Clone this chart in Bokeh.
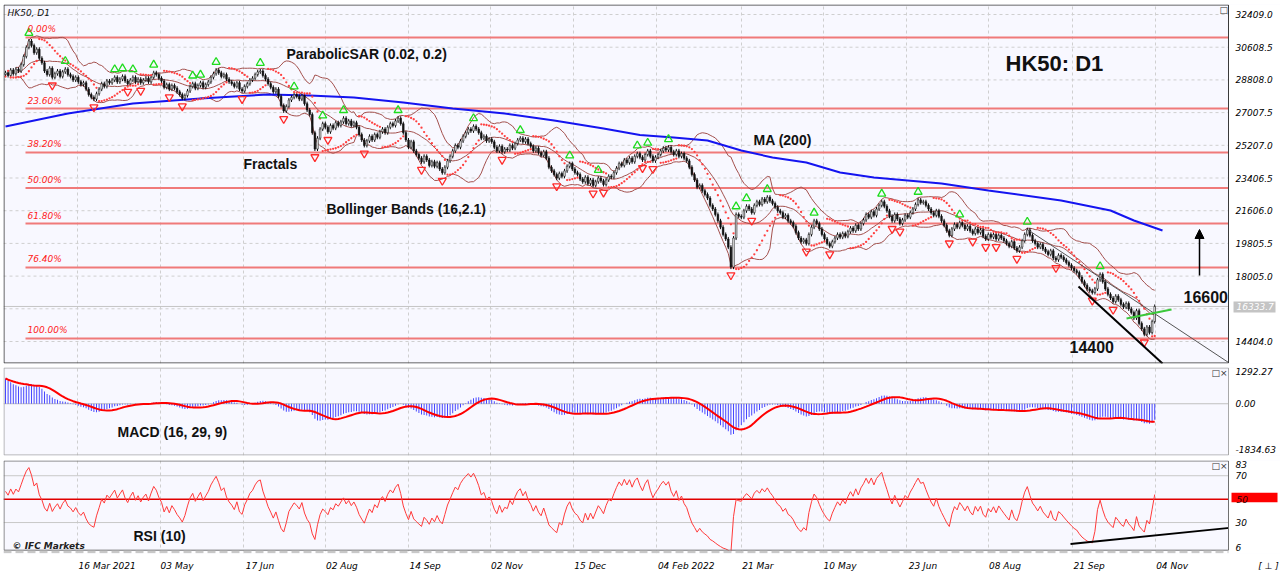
import numpy as np
import pandas as pd
from bokeh.plotting import figure
from bokeh.layouts import column
from bokeh.models import (ColumnDataSource, Range1d, FixedTicker, Label, Arrow,
                          NormalHead, Grid)
from bokeh.core.properties import value
from bokeh.embed import file_html
from bokeh.resources import INLINE

# ---------------- data ----------------
close = [
    29200, 29050, 29350, 29150, 29400, 29300, 29650, 30100, 30600,
    30950, 30700, 30300, 30500, 30000, 29750,
    29300, 29100, 29450, 28950,
    29150, 29300, 29000, 29250, 29400, 29100, 29000,
    28800, 28950, 28700, 28550, 28650,
    28300, 28000, 27850, 27750, 28050,
    28300, 28600, 28450, 28750, 28650,
    28800, 28950, 28700, 28850, 29000, 28750, 28600, 28800, 28950, 28700, 28850, 28650, 28800, 28900, 28700,
    28950, 29200, 29100, 28900, 28750,
    28400, 28550, 28300, 28500, 28350,
    28150, 28000, 27800, 27950, 28200,
    28450, 28600, 28350, 28500, 28650, 28400, 28550, 28700,
    28950, 29150, 29350, 29200, 29000, 29100, 28850, 28700,
    28600, 28450, 28650, 28300, 28200, 28450, 28600, 28800,
    28900, 29100, 29250, 29300, 29050, 28850,
    28600, 28400, 28150, 28300,
    27900, 27400, 27100, 27350,
    27700, 27850, 28000, 27900, 27750, 27950,
    27500, 27150, 26900,
    25900, 25000, 25600,
    26100, 26400, 26200, 25950, 26300, 26150, 26450, 26300,
    26500, 26700, 26400, 26550, 26300, 26450, 26200,
    25800, 25500, 25200, 25450, 25700,
    25500, 25800, 25650, 25950, 26100, 25900, 26200, 26400,
    26300, 26550, 26700, 26400,
    25900, 25500, 25100, 25400, 24900, 24700,
    24500, 24300, 24600, 24400, 24100, 24300, 24050, 24250,
    23900, 23700, 24000, 24350,
    24600, 24900, 25200, 25100, 25450, 25700,
    25900, 26100, 26000, 26250, 26100, 25900,
    25600, 25700, 25450, 25550,
    25400, 25100, 24900, 25150, 24850, 25000,
    24950, 25200, 25050, 25300, 25500, 25600,
    25400, 25550, 25300, 25150,
    24900, 25050, 24800, 24650, 24850, 24500,
    24000, 23800, 23600, 23400, 23650, 23500,
    23800, 24050, 24200, 23900, 23700, 23600,
    23350, 23200, 23450, 23100, 23300, 23000, 23200, 23400,
    23250, 23050, 23300, 23500, 23450,
    23700, 23950, 24200, 24100, 24400,
    24250, 24500, 24300, 24600, 24750, 24550,
    24400, 24700, 24900, 24600, 24350, 24550,
    24700, 24900, 25050, 24950, 25100, 24850,
    24700, 24900, 24600, 24750, 24500, 24350,
    24000, 23600, 23300, 22900,
    23000, 22700, 22500, 22300,
    21900, 21700, 21400, 21050,
    20700, 20300, 20050, 19600,
    18500, 20100, 21400,
    21300, 21250, 21600, 21850, 21700, 21500,
    21900, 22100, 21950, 22250, 22100,
    22350, 22150, 22000, 21800, 21600,
    21500, 21250, 21350, 21050, 20950, 20750,
    20400, 20100, 19900, 20000, 19800,
    20300, 20700, 21050, 20900,
    20600, 20300, 20050, 19800, 19650,
    19900, 20100, 20300, 20150, 20350, 20200,
    20450, 20650, 20500, 20800, 20600, 20900,
    21100, 21400, 21250, 21550, 21350,
    21700, 21900, 22100, 21850, 21600,
    21300, 21050, 21400, 21150, 20900,
    21100, 21350, 21250, 21500, 21700,
    21950, 22200, 22050, 22100, 21900,
    21700, 21500, 21350, 21600, 21300,
    21050, 20800, 20500, 20250, 20600,
    20850, 20700, 20950, 20800,
    20600, 20750, 20500, 20350, 20600,
    20400, 20550, 20200, 20050, 20300,
    20150, 20300, 20050, 20250, 20100, 19950,
    19800, 19650, 19900, 19550, 19400, 19600,
    19950, 20300, 20550, 20250,
    19950, 19800, 19600, 19750, 19500,
    19350, 19200, 19400, 19000, 18900,
    19150, 19050, 18900, 18750,
    18600, 18450, 18300, 18200,
    17950, 17700, 17500, 17300,
    17200, 17100, 17300,
    17800, 18100, 17700,
    17300, 17000, 16800, 16600,
    16900, 16700, 16450, 16300,
    16500, 16200, 16000,
    15700, 16100, 15400,
    15100, 14800, 15200, 14900,
    15500, 16333.7,
]
first_open = 29100
wick = 110

ma200_idx = [0, 24, 49, 75, 88, 101, 117, 134, 153, 172, 192, 211, 230, 244, 257,
             270, 283, 295, 308, 321, 334, 347, 360, 378, 406, 425, 434, 445]
ma200_val = [26242, 26958, 27508, 27784, 27894, 28004, 27949, 27839, 27564, 27233,
             26958, 26573, 26132, 25774, 25637, 25471, 24921, 24535, 24260, 23709,
             23434, 23269, 23104, 22718, 22168, 21617, 21067, 20516]

date_pos = [27.7, 59.6, 91.5, 123.0, 155.0, 186.5, 218.5, 250.4, 283.0, 314.6,
            346.5, 378.0, 410.4, 442.3]
date_labels = ["16 Mar 2021", "03 May", "17 Jun", "02 Aug", "14 Sep", "02 Nov",
               "15 Dec", "04 Feb 2022", "21 Mar", "10 May", "23 Jun", "08 Aug",
               "21 Sep", "04 Nov"]

price_ticks = [14404.0, 18005.0, 19805.5, 21606.0, 23406.5, 25207.0, 27007.5,
               28808.0, 30608.5, 32409.0]
price_grid = [14404.0, 16204.5, 18005.0, 19805.5, 21606.0, 23406.5, 25207.0,
              27007.5, 28808.0, 30608.5, 32409.0]
last_price = 16333.7

fib_high = 31143.0
fib_low = 14570.0
fib_levels = [0.0, 23.6, 38.2, 50.0, 61.8, 76.4, 100.0]

macd_ticks = [1292.27, 0.0, -1834.63]
macd_fast, macd_slow, macd_sig = 12, 26, 9
macd_seed_fast = 29300.0
macd_seed_slow = 28200.0
rsi_period = 10
rsi_seed_gain = 170.0
rsi_seed_loss = 130.0
rsi_ticks = [83, 70, 30, 6]
rsi_level = 50

# ---------------- pixel helpers for annotations ----------------
def mx(px):
    return (px - 5.0) / 2.6

def my(py):
    return 32409.0 - (py - 14.0) * 55.06

def macd_y(py):
    return 1452.6 - (py - 367.0) * 40.09

def rsi_y(py):
    return 83.0 - (py - 460.0) / 1.2338

# ---------------- derived series ----------------
n = len(close)
idx = np.arange(n, dtype=float)
c = np.array(close, dtype=float)
o = np.concatenate([[first_open], c[:-1]])
top = np.maximum(o, c)
bot = np.minimum(o, c)
hi = top + wick
lo = bot - wick

cs = pd.Series(c)
bb_mid = cs.rolling(16, min_periods=5).mean()
bb_std = cs.rolling(16, min_periods=5).std(ddof=0)
bb_up = bb_mid + 2.1 * bb_std
bb_dn = bb_mid - 2.1 * bb_std


def psar(high, low, step=0.02, maxstep=0.2):
    m = len(high)
    sar = np.zeros(m)
    bull = True
    af = step
    ep = high[0]
    sar[0] = low[0]
    for i in range(1, m):
        prev = sar[i - 1]
        s = prev + af * (ep - prev)
        if bull:
            s = min(s, low[i - 1], low[max(i - 2, 0)])
            if low[i] < s:
                bull = False
                s = ep
                ep = low[i]
                af = step
            elif high[i] > ep:
                ep = high[i]
                af = min(af + step, maxstep)
        else:
            s = max(s, high[i - 1], high[max(i - 2, 0)])
            if high[i] > s:
                bull = True
                s = ep
                ep = high[i]
                af = step
            elif low[i] < ep:
                ep = low[i]
                af = min(af + step, maxstep)
        sar[i] = s
    return sar


sar = psar(hi, lo)

up_x, up_y, dn_x, dn_y = [], [], [], []
for i in range(2, n - 2):
    if hi[i] > max(hi[i - 2], hi[i - 1]) and hi[i] >= max(hi[i + 1], hi[i + 2]):
        up_x.append(float(i)); up_y.append(float(hi[i] + 330))
    if lo[i] < min(lo[i - 2], lo[i - 1]) and lo[i] <= min(lo[i + 1], lo[i + 2]):
        dn_x.append(float(i)); dn_y.append(float(lo[i] - 330))


def ema(vals, period, seed):
    k = 2.0 / (period + 1)
    out = []
    e = seed
    for v in vals:
        e = e + k * (v - e)
        out.append(e)
    return np.array(out)


macd = ema(c, macd_fast, macd_seed_fast) - ema(c, macd_slow, macd_seed_slow)
signal = pd.Series(macd).rolling(macd_sig, min_periods=1).mean().values

ag, al = rsi_seed_gain, rsi_seed_loss
rsi = []
prev = c[0]
for v in c:
    d = v - prev
    prev = v
    ag = (ag * (rsi_period - 1) + max(d, 0.0)) / rsi_period
    al = (al * (rsi_period - 1) + max(-d, 0.0)) / rsi_period
    rsi.append(100.0 - 100.0 / (1.0 + ag / al))
rsi = np.array(rsi)

# ---------------- figures ----------------
W = 1280
BG = "#F8F8FF"
XR = Range1d(-0.77, 490.38)
AX_FONT = "DejaVu Sans"
AX_COLOR = "#000000"
X_END = mx(1228)


def base_fig(height, yr, top_b, bot_b, xaxis=None):
    p = figure(width=W, height=height, x_range=XR, y_range=yr,
               output_backend="svg", toolbar_location=None,
               y_axis_location=None, x_axis_location=xaxis,
               min_border_left=3, min_border_right=0, min_border_top=top_b,
               min_border_bottom=bot_b, background_fill_color=BG,
               border_fill_color="white", outline_line_color=None)
    for g in p.grid:
        g.visible = False
    p.add_layout(Grid(dimension=0, ticker=FixedTicker(ticks=date_pos),
                      grid_line_color="#CFCFCF", grid_line_dash="3 3"))
    return p


def hgrid(p, ys, dash="3 3", color="#CFCFCF", width=1):
    p.segment(x0=[mx(3)] * len(ys), x1=[X_END] * len(ys), y0=ys, y1=ys,
              line_color=color, line_dash=dash, line_width=width)


def finish_panel(p, y_top_px, y_bot_px, yconv, border_color, labels, vals,
                 ylo, yhi, baselines=None):
    # white area for the value scale at the right
    p.quad(left=[mx(1228.5)], right=[600], bottom=[ylo], top=[yhi],
           fill_color="white", line_color=None)
    # panel border
    p.quad(left=[mx(3.5)], right=[mx(1228)], top=[yconv(y_top_px + 0.5)],
           bottom=[yconv(y_bot_px - 0.5)], fill_color=None,
           line_color=border_color, line_width=1)
    if baselines is None:
        baselines = ["middle"] * len(vals)
    p.text(x=[mx(1235)] * len(vals), y=vals, text=labels,
           text_font=value(AX_FONT), text_font_style="italic",
           text_font_size="9px", text_color=AX_COLOR, text_align="left",
           text_baseline=baselines)


def txt(p, x, y, text, size, style="bold", font="Liberation Sans", color="#111111",
        baseline="top", align="left"):
    p.add_layout(Label(x=x, y=y, text=text, text_font=font, text_font_size=size,
                       text_font_style=style, text_color=color,
                       text_baseline=baseline, text_align=align))


# ---- main price panel ----
main = base_fig(365, Range1d(13193, 32960), 4, 2)
hgrid(main, price_grid)

fib_prices = [fib_high - (fib_high - fib_low) * lv / 100.0 for lv in fib_levels]
main.segment(x0=[mx(25)] * len(fib_prices), x1=[X_END] * len(fib_prices),
             y0=fib_prices, y1=fib_prices, line_color="#F07A7A", line_width=2)
for lv, fp in zip(fib_levels, fib_prices):
    txt(main, mx(27), fp + 3 * 55.06, "%.2f%%" % lv, "9px", style="italic",
        font=AX_FONT, color="#FF1A1A", baseline="bottom")

main.segment(x0=[mx(3)], x1=[X_END], y0=[last_price], y1=[last_price],
             line_color="#C4C4C4", line_width=1)

bb_color = "#A3504D"
main.line(idx, bb_up.values, line_color=bb_color, line_width=1)
main.line(idx, bb_mid.values, line_color=bb_color, line_width=1)
main.line(idx, bb_dn.values, line_color=bb_color, line_width=1)

main.line(ma200_idx, ma200_val, line_color="#1414F0", line_width=2)

src = ColumnDataSource(dict(x=idx, top=top, bot=bot, hi=hi, lo=lo))
main.segment(x0="x", y0="lo", x1="x", y1="hi", source=src,
             line_color="#111111", line_width=1)
bull = c >= o
main.vbar(x=idx[bull], top=top[bull], bottom=bot[bull], width=0.62,
          fill_color="white", line_color="#111111", line_width=0.6)
main.vbar(x=idx[~bull], top=top[~bull], bottom=bot[~bull], width=0.62,
          fill_color="#111111", line_color="#111111", line_width=0.6)

main.scatter(idx, sar, size=2.3, marker="circle", fill_color="#FF4040",
             line_color=None)
main.scatter(up_x, up_y, marker="triangle", size=8, fill_color=None,
             line_color="#1EDC1E", line_width=1.3)
main.scatter(dn_x, dn_y, marker="inverted_triangle", size=8, fill_color=None,
             line_color="#FF2A2A", line_width=1.3)

main.line([mx(1027), mx(1228)], [my(229), my(362)], line_color="#555555", line_width=1)
main.line([mx(1078), mx(1162)], [my(286), my(363)], line_color="#000000", line_width=2)
main.line([mx(1126), mx(1171)], [my(318), my(309)], line_color="#3CC83C", line_width=2)
main.add_layout(Arrow(end=NormalHead(size=9, fill_color="black", line_color="black"),
                      x_start=mx(1199), y_start=my(275), x_end=mx(1199), y_end=my(229),
                      line_color="black", line_width=1.5))

finish_panel(main, 4, 363, my, "#3A3A3A",
             ["%.1f" % t for t in price_ticks], price_ticks, 0, 40000)
main.quad(left=[mx(1233)], right=[mx(1275)], top=[my(301)], bottom=[my(312)],
          fill_color="#C4C4C4", line_color=None)
main.text(x=[mx(1236)], y=[last_price], text=["%.1f" % last_price],
          text_font=value(AX_FONT), text_font_style="italic", text_font_size="9px",
          text_color="white", text_align="left", text_baseline="middle")

txt(main, mx(7), my(7), "HK50, D1", "9px", style="italic", font=AX_FONT)
txt(main, mx(286), my(45), "ParabolicSAR (0.02, 0.2)", "14px")
txt(main, mx(243), my(155), "Fractals", "14px")
txt(main, mx(326), my(200), "Bollinger Bands (16,2.1)", "14px")
txt(main, mx(753), my(131), "MA (200)", "14px")
txt(main, mx(1005), my(50), "HK50: D1", "22px")
txt(main, mx(1183), my(290), "16600", "16px")
txt(main, mx(1069), my(341), "14400", "16px")
txt(main, mx(1219), my(4), "\u25a1", "9px", style="normal", font=AX_FONT, color="#333333")

# ---- MACD panel ----
mp = base_fig(92, Range1d(-2075.2, 1452.6), 2, 2)
hgrid(mp, [0.0], dash="solid", color="#C0C0C0")
mp.vbar(x=idx, top=macd, bottom=0, width=0.38, fill_color="#4646FF",
        line_color=None)
mp.line(idx, signal, line_color="#FF0000", line_width=2)
finish_panel(mp, 367, 455, macd_y, "#A8A8A8",
             ["%.2f" % t for t in macd_ticks], macd_ticks, -5000, 5000)
txt(mp, mx(117), macd_y(423), "MACD (16, 29, 9)", "14px")
txt(mp, mx(1211), macd_y(367), "\u25a1\u00d7", "9px", style="normal", font=AX_FONT,
    color="#333333")

# ---- RSI panel ----
rp = base_fig(116, Range1d(3.569, 83), 3, 15, xaxis="below")
hgrid(rp, [30, 70], dash="solid", color="#C8C8C8")
rp.segment(x0=[mx(3)], x1=[X_END], y0=[rsi_level], y1=[rsi_level],
           line_color="#E00000", line_width=1.5)
rp.line(idx, rsi, line_color="#FF3A3A", line_width=1)
rp.line([mx(1070), mx(1229)], [rsi_y(548), rsi_y(531)], line_color="#000000",
        line_width=2)
finish_panel(rp, 460, 555, rsi_y, "#707070",
             [str(t) for t in rsi_ticks], rsi_ticks, -100, 200,
             baselines=["top", "middle", "middle", "bottom"])
rp.quad(left=[mx(1231)], right=[mx(1277)], top=[rsi_y(494)], bottom=[rsi_y(504)],
        fill_color="#FF0000", line_color=None)
rp.text(x=[mx(1236)], y=[rsi_level], text=[str(rsi_level)],
        text_font=value(AX_FONT), text_font_style="italic", text_font_size="9px",
        text_color="#2A0000", text_align="left", text_baseline="middle")
rp.quad(left=[-10], right=[600], top=[rsi_y(555.6)], bottom=[-100],
        fill_color="white", line_color=None)
rp.segment(x0=[mx(3)], x1=[X_END], y0=[rsi_y(556.5)], y1=[rsi_y(556.5)],
           line_color="#C8C8C8", line_width=2.5, line_dash="8 4")
txt(rp, mx(133), rsi_y(531), "RSI (10)", "14px")
txt(rp, mx(12), rsi_y(545), "\u00a9 IFC Markets", "9px", style="bold italic",
    font=AX_FONT, color="#222222")
txt(rp, mx(1211), rsi_y(460), "\u25a1\u00d7", "9px", style="normal", font=AX_FONT,
    color="#333333")

xa = rp.xaxis[0]
centers = [round(p + (len(l) * 5.2 / 2 + 1) / 2.6, 2) for p, l in zip(date_pos, date_labels)]
corner = round(mx(1268), 2)
xa.ticker = FixedTicker(ticks=centers + [corner])
overrides = {cc: l for cc, l in zip(centers, date_labels)}
overrides[corner] = "[ \u22a5 ]"
xa.major_label_overrides = overrides
xa.major_tick_line_color = None
xa.minor_tick_line_color = None
xa.axis_line_color = None
xa.major_label_text_font = AX_FONT
xa.major_label_text_font_style = "italic"
xa.major_label_text_font_size = "9px"
xa.major_label_text_color = AX_COLOR
xa.major_label_standoff = 1

layout = column(main, mp, rp, spacing=0)
open("out.html", "w").write(file_html(layout, INLINE))
